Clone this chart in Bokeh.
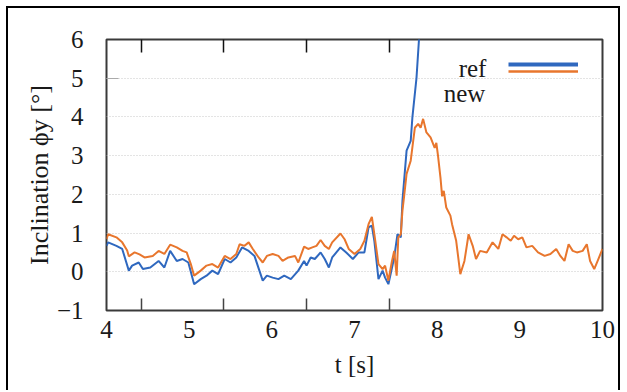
from bokeh.plotting import figure
from bokeh.models import (Range1d, FixedTicker, LinearAxis, Legend, LegendItem, Label)
from bokeh.embed import file_html
from bokeh.resources import INLINE

# ---- data ----
t_new = [4.00, 4.02, 4.12, 4.19, 4.25, 4.27, 4.34, 4.40, 4.46, 4.56, 4.63, 4.70, 4.77, 4.85, 4.92, 4.97,
         5.02, 5.06, 5.14, 5.21, 5.28, 5.35, 5.43, 5.50, 5.57, 5.61, 5.67, 5.72, 5.77, 5.84, 5.89, 5.94,
         6.01, 6.08, 6.13, 6.20, 6.28, 6.32, 6.39, 6.44, 6.49, 6.54, 6.59, 6.64, 6.69, 6.73, 6.83, 6.88,
         6.93, 7.00, 7.07, 7.12, 7.17, 7.21, 7.24, 7.29, 7.34, 7.37, 7.41, 7.45, 7.48, 7.51, 7.53, 7.56,
         7.58, 7.60, 7.63, 7.68, 7.73, 7.77, 7.80, 7.83, 7.87, 7.92, 7.97, 7.99, 8.01, 8.04, 8.06, 8.08,
         8.11, 8.16, 8.18, 8.23, 8.28, 8.33, 8.38, 8.43, 8.47, 8.52, 8.60, 8.67, 8.74, 8.79, 8.84, 8.89,
         8.93, 8.98, 9.03, 9.08, 9.15, 9.22, 9.30, 9.37, 9.44, 9.49, 9.54, 9.59, 9.64, 9.69, 9.76, 9.81,
         9.85, 9.90, 9.95, 10.00]
v_new = [0.84, 0.97, 0.89, 0.76, 0.55, 0.40, 0.50, 0.45, 0.37, 0.41, 0.54, 0.46, 0.70, 0.63, 0.54, 0.50,
         0.20, -0.10, 0.03, 0.16, 0.20, 0.11, 0.41, 0.33, 0.46, 0.71, 0.67, 0.76, 0.59, 0.37, 0.24, 0.41,
         0.46, 0.41, 0.28, 0.37, 0.41, 0.24, 0.65, 0.59, 0.63, 0.67, 0.82, 0.67, 0.59, 0.76, 0.99, 0.84,
         0.59, 0.46, 0.59, 0.80, 1.23, 1.42, 0.97, 0.20, 0.07, 0.16, -0.23, 0.24, 0.54, -0.10, 0.89, 0.97,
         1.58, 1.95, 2.53, 2.87, 3.72, 3.82, 3.72, 3.95, 3.60, 3.47, 3.20, 3.33, 3.00, 2.43, 1.95, 2.09,
         1.66, 1.45, 1.23, 0.80, -0.06, 0.28, 0.97, 0.67, 0.33, 0.54, 0.50, 0.76, 0.59, 0.97, 0.89, 0.80,
         0.93, 0.84, 0.89, 0.63, 0.67, 0.50, 0.41, 0.46, 0.59, 0.41, 0.28, 0.71, 0.54, 0.50, 0.54, 0.71,
         0.28, 0.07, 0.33, 0.59]

t_ref = [4.00, 4.02, 4.12, 4.19, 4.27, 4.31, 4.39, 4.44, 4.53, 4.63, 4.70, 4.77, 4.85, 4.92, 4.99,
         5.06, 5.14, 5.21, 5.28, 5.35, 5.43, 5.50, 5.57, 5.64, 5.72, 5.79, 5.89, 5.94, 6.01, 6.08,
         6.15, 6.23, 6.32, 6.39, 6.42, 6.47, 6.52, 6.59, 6.64, 6.69, 6.73, 6.83, 6.90, 6.98, 7.05,
         7.12, 7.17, 7.21, 7.24, 7.29, 7.34, 7.37, 7.41, 7.45, 7.48, 7.52, 7.56, 7.58, 7.63, 7.68,
         7.70, 7.75, 7.78, 7.80]
v_ref = [0.67, 0.76, 0.67, 0.59, 0.03, 0.16, 0.24, 0.07, 0.11, 0.28, 0.11, 0.54, 0.28, 0.33, 0.24,
         -0.32, -0.19, -0.10, 0.03, -0.06, 0.33, 0.24, 0.37, 0.63, 0.54, 0.41, -0.23, -0.10, -0.15, -0.19,
         -0.10, -0.19, 0.03, 0.28, 0.16, 0.37, 0.33, 0.50, 0.33, 0.11, 0.37, 0.63, 0.50, 0.33, 0.50,
         0.50, 1.15, 1.19, 0.80, -0.19, 0.03, -0.15, -0.32, 0.07, 0.37, 0.97, 0.89, 1.83, 3.13, 3.38,
         3.98, 5.01, 6.00, 6.50]

x_ticks = [4, 5, 6, 7, 8, 9, 10]
x_tick_marks = [4.42, 5.42, 6.42, 7.42]
y_ticks = [-1, 0, 1, 2, 3, 4, 5, 6]
series_labels = ["ref", "new"]

BLUE = "#2f68bf"
ORANGE = "#e8762d"
FONT = "Liberation Serif"
TXT = "#1a1a1a"

p = figure(width=614, height=384, output_backend="svg", toolbar_location=None,
           x_range=Range1d(4, 10), y_range=Range1d(-1, 6),
           min_border_left=98, min_border_right=20, min_border_top=31, min_border_bottom=82)
p.styles = {"margin-left": "6px", "margin-top": "6px", "border-left": "2px solid black",
            "border-top": "2px solid black", "border-right": "2px solid black"}

p.outline_line_color = "#3a3a3a"
p.outline_line_width = 2
p.background_fill_color = "white"
p.border_fill_color = "white"

blue_r = p.line(t_ref, v_ref, line_color=BLUE, line_width=2)
orange_r = p.line(t_new, v_new, line_color=ORANGE, line_width=2)

# x axis
xax = p.xaxis[0]
xax.ticker = FixedTicker(ticks=x_ticks, minor_ticks=x_tick_marks)
xax.major_tick_in = 0
xax.major_tick_out = 0
xax.minor_tick_in = 12
xax.minor_tick_out = 0
xax.minor_tick_line_color = "#444444"
xax.minor_tick_line_width = 1.5
xax.axis_line_color = None
xax.major_label_standoff = 10
xax.major_label_text_font = FONT
xax.major_label_text_font_size = "25px"
xax.major_label_text_color = TXT
xax.axis_label = "t [s]"
xax.axis_label_text_font = FONT
xax.axis_label_text_font_size = "25px"
xax.axis_label_text_font_style = "normal"
xax.axis_label_text_color = TXT
xax.axis_label_standoff = 10

top_ax = LinearAxis(ticker=FixedTicker(ticks=[], minor_ticks=x_tick_marks),
                    major_tick_in=0, major_tick_out=0, minor_tick_in=13, minor_tick_out=0,
                    minor_tick_line_color="#111111", minor_tick_line_width=1.5,
                    axis_line_color=None, major_label_standoff=0)
p.add_layout(top_ax, "above")

# y axis
yax = p.yaxis[0]
yax.ticker = FixedTicker(ticks=y_ticks, minor_ticks=[5])
yax.major_tick_in = 0
yax.major_tick_out = 0
yax.minor_tick_in = 12
yax.minor_tick_out = 0
yax.minor_tick_line_color = "#aaaaaa"
yax.axis_line_color = None
yax.major_label_standoff = 23
yax.major_label_overrides = {-1: "\u22121"}
yax.major_label_text_font = FONT
yax.major_label_text_font_size = "25px"
yax.major_label_text_color = TXT
yax.axis_label = "Inclination \u03d5y [\u00b0]"
yax.axis_label_text_font = FONT
yax.axis_label_text_font_size = "26px"
yax.axis_label_text_font_style = "normal"
yax.axis_label_text_color = TXT
yax.axis_label_standoff = 0

p.xgrid.grid_line_color = None
p.ygrid.ticker = FixedTicker(ticks=y_ticks)
p.ygrid.grid_line_color = "#c8c8c8"
p.ygrid.grid_line_dash = "1 2"
p.ygrid.grid_line_width = 1

# legend keys (no data drawn in the plot area)
key_blue = p.line([float("nan")], [float("nan")], line_color=BLUE, line_width=4)
key_orange = p.line([float("nan")], [float("nan")], line_color=ORANGE, line_width=2.5)

legend = Legend(items=[LegendItem(label=" ", renderers=[key_blue]),
                       LegendItem(label=" ", renderers=[key_orange])],
                location=(402, 236), orientation="vertical",
                glyph_width=70, glyph_height=6, label_height=6, label_width=0,
                label_standoff=0, label_text_font_size="6px", spacing=1,
                padding=0, margin=0, border_line_color=None, background_fill_alpha=0)
p.add_layout(legend, "center")

p.add_layout(Label(x=8.596, y=5.245, text=series_labels[0], text_align="right",
                   text_baseline="alphabetic", text_font=FONT, text_font_size="25px",
                   text_color=TXT))
p.add_layout(Label(x=8.583, y=4.60, text=series_labels[1], text_align="right",
                   text_baseline="alphabetic", text_font=FONT, text_font_size="25px",
                   text_color=TXT))

open("out.html", "w").write(file_html(p, INLINE))
